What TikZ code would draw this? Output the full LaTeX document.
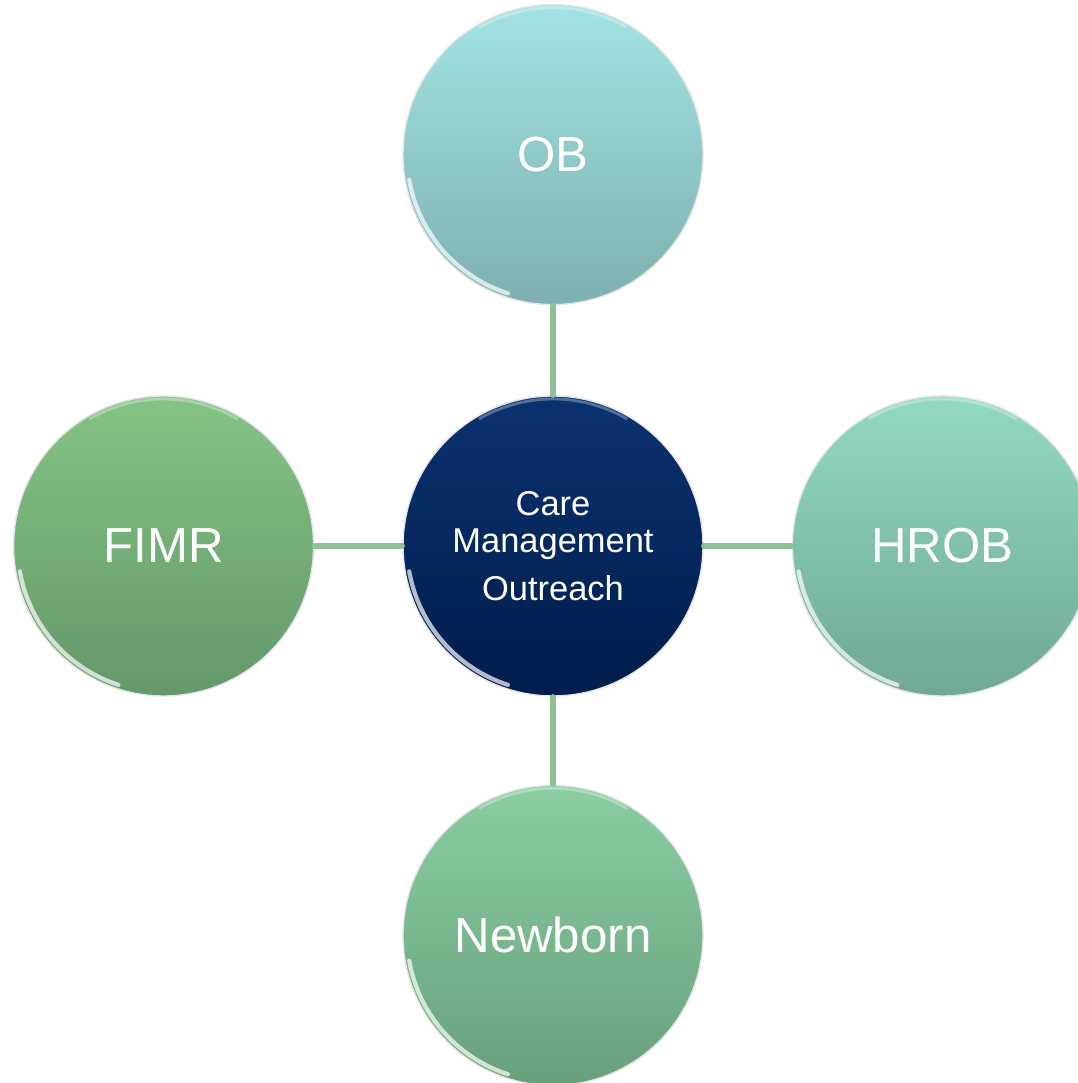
\documentclass[tikz,border=0pt]{standalone}
\usepackage{fontspec}
\setmainfont{Liberation Sans}
\usepackage{tikz}
\usetikzlibrary{positioning}
\definecolor{obtop}{HTML}{A2E4E2}
\definecolor{obbot}{HTML}{7DB0AE}
\definecolor{hrobtop}{HTML}{92DAC0}
\definecolor{hrobbot}{HTML}{70A894}
\definecolor{fimrtop}{HTML}{84C484}
\definecolor{fimrbot}{HTML}{64986A}
\definecolor{nbtop}{HTML}{8ACEA2}
\definecolor{nbbot}{HTML}{68A07C}
\definecolor{hubtop}{HTML}{0A3270}
\definecolor{hubbot}{HTML}{001D4C}
\definecolor{linkgreen}{HTML}{8FC196}
\tikzset{
  bubble/.style={circle,minimum size=3cm,inner sep=0pt,text=white,font=\fontsize{14}{17}\selectfont,draw=white!80!gray,line width=0.4pt},
  link/.style={line width=1.45pt,color=linkgreen},
  rim/.style={white,line width=1.2pt,opacity=0.7,line cap=round}
}

\begin{document}
\begin{tikzpicture}[line cap=round,line join=round,node distance=0.88cm and 0.88cm]
\useasboundingbox (0,0) rectangle (10.78,10.83);
\clip (0,0) rectangle (10.78,10.83);
% hub in the middle
\node[bubble,top color=hubtop,bottom color=hubbot,align=center,font=\fontsize{9.8}{10.6}\selectfont] (hub) at (5.53,5.37) {Care\\Management\\[2.8pt]Outreach};
% the four around it
\node[bubble,top color=obtop,bottom color=obbot,above=0.9cm of hub] (ob) {OB};
\node[bubble,top color=hrobtop,bottom color=hrobbot,right=of hub] (hrob) {HROB};
\node[bubble,top color=fimrtop,bottom color=fimrbot,left=of hub] (fimr) {FIMR};
\node[bubble,top color=nbtop,bottom color=nbbot,below=of hub] (newborn) {Newborn};
% links
\draw[link] (hub) -- (ob);
\draw[link] (hub) -- (hrob);
\draw[link] (hub) -- (fimr);
\draw[link] (hub) -- (newborn);
% gloss on the rims
\foreach \n in {hub,ob,hrob,fimr,newborn}{
  \draw[rim] (\n.center) ++(190:1.46) arc (190:252:1.46);
  \draw[rim,opacity=0.3,line width=0.8pt] (\n.center) ++(60:1.47) arc (60:120:1.47);
}
\end{tikzpicture}
\end{document}
